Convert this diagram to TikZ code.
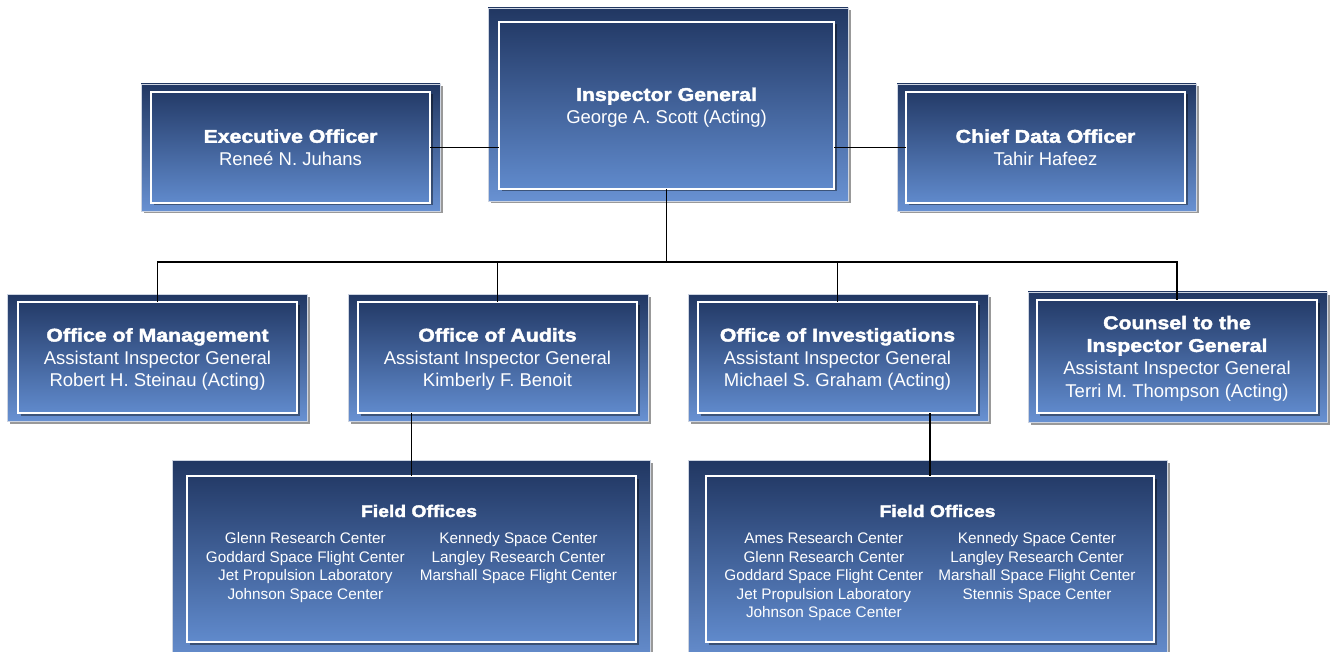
\documentclass[tikz,border=0pt]{standalone}
\usepackage{fontspec}
\setmainfont{Liberation Sans}
\newfontfamily\hb[FakeStretch=1.15,FakeBold=2.2]{Liberation Sans Bold}
\usetikzlibrary{shadows,fit}
\definecolor{otop}{RGB}{33,55,98}
\definecolor{obot}{RGB}{104,145,210}
\definecolor{itop}{RGB}{36,59,104}
\definecolor{ibot}{RGB}{96,138,204}
\definecolor{oedge}{RGB}{205,212,225}
\tikzset{
  boxshadow/.style={drop shadow={shadow xshift=2.5pt,shadow yshift=-2.5pt,opacity=0.4,fill=black}},
  outerbox/.style={rectangle,inner sep=0pt,outer sep=0pt,top color=otop,bottom color=obot,
    draw=oedge,line width=0.8pt,boxshadow},
  innerbox/.style={rectangle,inner sep=0pt,outer sep=0pt,top color=itop,bottom color=ibot,
    draw=white,line width=1.4pt,boxshadow},
  boxtext/.style={inner sep=0pt,outer sep=0pt,text=white,align=center,
    font=\fontsize{18.5}{22.7}\selectfont},
  fotext/.style={inner sep=0pt,outer sep=0pt,anchor=north,text=white,
    font=\fontsize{15.3}{18.6}\selectfont},
  link/.style={draw=black,line width=1.8pt,line join=miter}
}
\begin{document}
\begin{tikzpicture}[x=1pt,y=-1pt]
\fill[white] (0,0) rectangle (1330,652);
\useasboundingbox (0,0) rectangle (1330,652);

% Inspector General
\node[outerbox,fit={(488,8) (848,201)}] (igo) {};
\node[innerbox,fit={(499,22) (834,189)}] (ig) {};
\node[boxtext] (igt) at ([yshift=-2pt]ig.center) {{\hb Inspector General}\\George A. Scott (Acting)};
% Executive Officer
\node[outerbox,fit={(141,84) (440,211)}] (exo) {};
\node[innerbox,fit={(151,92) (430,203)}] (ex) {};
\node[boxtext] (ext) at (ex.center) {{\hb Executive Officer}\\Rene\'e N. Juhans};
% Chief Data Officer
\node[outerbox,fit={(897,84) (1196,211)}] (cdo) {};
\node[innerbox,fit={(906,92) (1185,203)}] (cd) {};
\node[boxtext] (cdt) at (cd.center) {{\hb Chief Data Officer}\\Tahir Hafeez};
% Office of Management
\node[outerbox,fit={(7,294) (307,421)}] (mgo) {};
\node[innerbox,fit={(18,302) (297,413)}] (mg) {};
\node[boxtext] (mgt) at ([yshift=-2pt]mg.center) {{\hb Office of Management}\\Assistant Inspector General\\Robert H. Steinau (Acting)};
% Office of Audits
\node[outerbox,fit={(348,294) (648,421)}] (auo) {};
\node[innerbox,fit={(358,302) (637,413)}] (au) {};
\node[boxtext] (aut) at ([yshift=-2pt]au.center) {{\hb Office of Audits}\\Assistant Inspector General\\Kimberly F. Benoit};
% Office of Investigations
\node[outerbox,fit={(688,294) (988,421)}] (ivo) {};
\node[innerbox,fit={(698,302) (977,413)}] (iv) {};
\node[boxtext] (ivt) at ([yshift=-2pt]iv.center) {{\hb Office of Investigations}\\Assistant Inspector General\\Michael S. Graham (Acting)};
% Counsel
\node[outerbox,fit={(1028,292) (1327,422)}] (coo) {};
\node[innerbox,fit={(1037,300) (1317,413)}] (co) {};
\node[boxtext] (cot) at ([yshift=-2pt]co.center) {{\hb Counsel to the}\\{\hb Inspector General}\\Assistant Inspector General\\Terri M. Thompson (Acting)};
% Field offices 1
\node[outerbox,fit={(172,460) (650,668)}] (fa) {};
\node[innerbox,fit={(187,476) (636,642)}] (fai) {};
\node[fotext] (fat) at (411.5,504) {\begin{tabular}{@{}c@{\hspace{15pt}}c@{}}
\multicolumn{2}{c}{\hspace{15pt}\fontsize{16.8}{18.6}\selectfont\hb Field Offices}\\[7.9pt]
Glenn Research Center & Kennedy Space Center\\
Goddard Space Flight Center & Langley Research Center\\
Jet Propulsion Laboratory & Marshall Space Flight Center\\
Johnson Space Center & \\
\end{tabular}};
% Field offices 2
\node[outerbox,fit={(688,460) (1167,668)}] (fb) {};
\node[innerbox,fit={(706,476) (1154,642)}] (fbi) {};
\node[fotext] (fbt) at (930,504) {\begin{tabular}{@{}c@{\hspace{15pt}}c@{}}
\multicolumn{2}{c}{\hspace{15pt}\fontsize{16.8}{18.6}\selectfont\hb Field Offices}\\[7.9pt]
Ames Research Center & Kennedy Space Center\\
Glenn Research Center & Langley Research Center\\
Goddard Space Flight Center & Marshall Space Flight Center\\
Jet Propulsion Laboratory & Stennis Space Center\\
Johnson Space Center & \\
\end{tabular}};

% connectors
\coordinate (bus) at (667,262);
\draw[link] (ex.east) -- (ex.east -| ig.west);
\draw[link] (cd.west) -- (cd.west -| ig.east);
\draw[link] (ig.south) -- (ig.south |- bus);
\draw[link] (mg.north) -- (mg.north |- bus) -- (co.north |- bus) -- (co.north);
\draw[link] (au.north |- bus) -- (au.north);
\draw[link] (iv.north |- bus) -- (iv.north);
\draw[link] (au.south -| fai.north) -- (fai.north);
\draw[link] (iv.south -| fbi.north) -- (fbi.north);
\end{tikzpicture}
\end{document}
